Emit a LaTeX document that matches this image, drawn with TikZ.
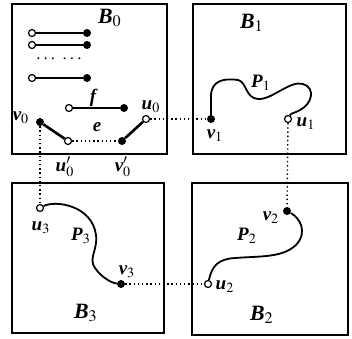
\documentclass[tikz,border=0pt]{standalone}
\usepackage{amssymb}
\usepackage{amsmath}
\usepackage{mathptmx}
\usepackage{fontspec}
\setmainfont{Liberation Serif}
\usepackage{tikz}

\newcommand{\vlab}[2]{$\mbox{\bfseries\itshape #1}_{#2}$}

\begin{document}
\begin{tikzpicture}[x=1pt, y=-1pt,
  box/.style={line width=1.7pt},
  full/.style={circle, fill=black, inner sep=0pt, minimum size=8pt},
  hollow/.style={circle, draw, fill=white, line width=1.2pt, inner sep=0pt, minimum size=7pt},
  edge/.style={line width=2.6pt},
  link/.style={line width=1.4pt, dash pattern=on 1.4pt off 2.8pt},
  curve/.style={line width=1.8pt},
  lbl/.style={font=\normalsize, scale=1.9, transform shape, inner sep=0pt},
  boxlbl/.style={lbl, scale=1.15}]
\useasboundingbox (0,0) rectangle (352,338);
% the four boxes
\draw[box] (12,4) rectangle (167,154);
\draw[box] (193,4) rectangle (346,154);
\draw[box] (12,183) rectangle (164,333);
\draw[box] (192,183) rectangle (348,335);
\node[boxlbl] (b0) at (110,18) {\vlab{B}{0}};
\node[boxlbl] (b1) at (252,23) {\vlab{B}{1}};
\node[boxlbl] (b3) at (86,313) {\vlab{B}{3}};
\node[boxlbl] (b2) at (262,315) {\vlab{B}{2}};
% the matching in B_0
\node[hollow] (a1) at (32,33) {};
\node[full] (c1) at (87,33) {};
\node[hollow] (a2) at (32,45) {};
\node[full] (c2) at (87,45) {};
\node[hollow] (a3) at (32,78) {};
\node[full] (c3) at (87,78) {};
\draw[edge] (a1) -- (c1);
\draw[edge] (a2) -- (c2);
\draw[edge] (a3) -- (c3);
\node[lbl] (dots) at (60,59) {\bfseries$\cdots\;\cdots$};
\node[hollow] (fa) at (69,108) {};
\node[full] (fb) at (124,108) {};
\draw[edge] (fa) -- (fb);
\node[lbl] (f) at (93,98) {\bfseries\itshape f};
\node[full] (v0) at (40,122) {};
\node[hollow] (u0p) at (68,141) {};
\node[full] (v0p) at (122,141) {};
\node[hollow] (u0) at (146,119) {};
\draw[edge] (v0) -- (u0p);
\draw[edge] (v0p) -- (u0);
\draw[link] (u0p) -- (v0p);
\node[lbl] (e) at (97,127) {\bfseries\itshape e};
\node[lbl] (lv0) at (21,118) {\vlab{v}{0}};
\node[lbl] (lu0) at (151,107) {\vlab{u}{0}};
\node[lbl] (lu0p) at (65,167) {$\mbox{\bfseries\itshape u}'_0$};
\node[lbl] (lv0p) at (123,167) {$\mbox{\bfseries\itshape v}'_0$};
% the path in B_1
\node[full] (v1) at (211,119) {};
\node[hollow] (u1) at (288,119) {};
\draw[curve] (v1) -- (211,96) .. controls (211,80) and (225,78) .. (238,80)
  .. controls (247,82) and (245,98) .. (258,99)
  .. controls (272,100) and (290,80) .. (303,84)
  .. controls (316,88) and (312,104) .. (300,110)
  .. controls (295,113) and (291,113) .. (u1);
\node[lbl] (p1) at (261,83) {\vlab{P}{1}};
\node[lbl] (lv1) at (215,136) {\vlab{v}{1}};
\node[lbl] (lu1) at (306,124) {\vlab{u}{1}};
% the path in B_2
\node[full] (v2) at (287,211) {};
\node[hollow] (u2) at (208,284) {};
\draw[curve] (u2) .. controls (212,266) and (218,259) .. (235,258)
  .. controls (260,256) and (282,258) .. (296,245)
  .. controls (308,232) and (300,218) .. (v2);
\node[lbl] (p2) at (247,236) {\vlab{P}{2}};
\node[lbl] (lv2) at (271,218) {\vlab{v}{2}};
\node[lbl] (lu2) at (225,287) {\vlab{u}{2}};
% the path in B_3
\node[hollow] (u3) at (40,208) {};
\node[full] (v3) at (121,284) {};
\draw[curve] (u3) .. controls (55,200) and (92,205) .. (96,235)
  .. controls (98,250) and (88,258) .. (95,268)
  .. controls (102,278) and (112,283) .. (v3);
\node[lbl] (p3) at (81,236) {\vlab{P}{3}};
\node[lbl] (lu3) at (41,228) {\vlab{u}{3}};
\node[lbl] (lv3) at (127,272) {\vlab{v}{3}};
% links between the boxes
\draw[link] (u0) -- (v1);
\draw[link] (u1) -- (v2);
\draw[link] (v3) -- (u2);
\draw[link] (v0) -- (u3);
\end{tikzpicture}
\end{document}
